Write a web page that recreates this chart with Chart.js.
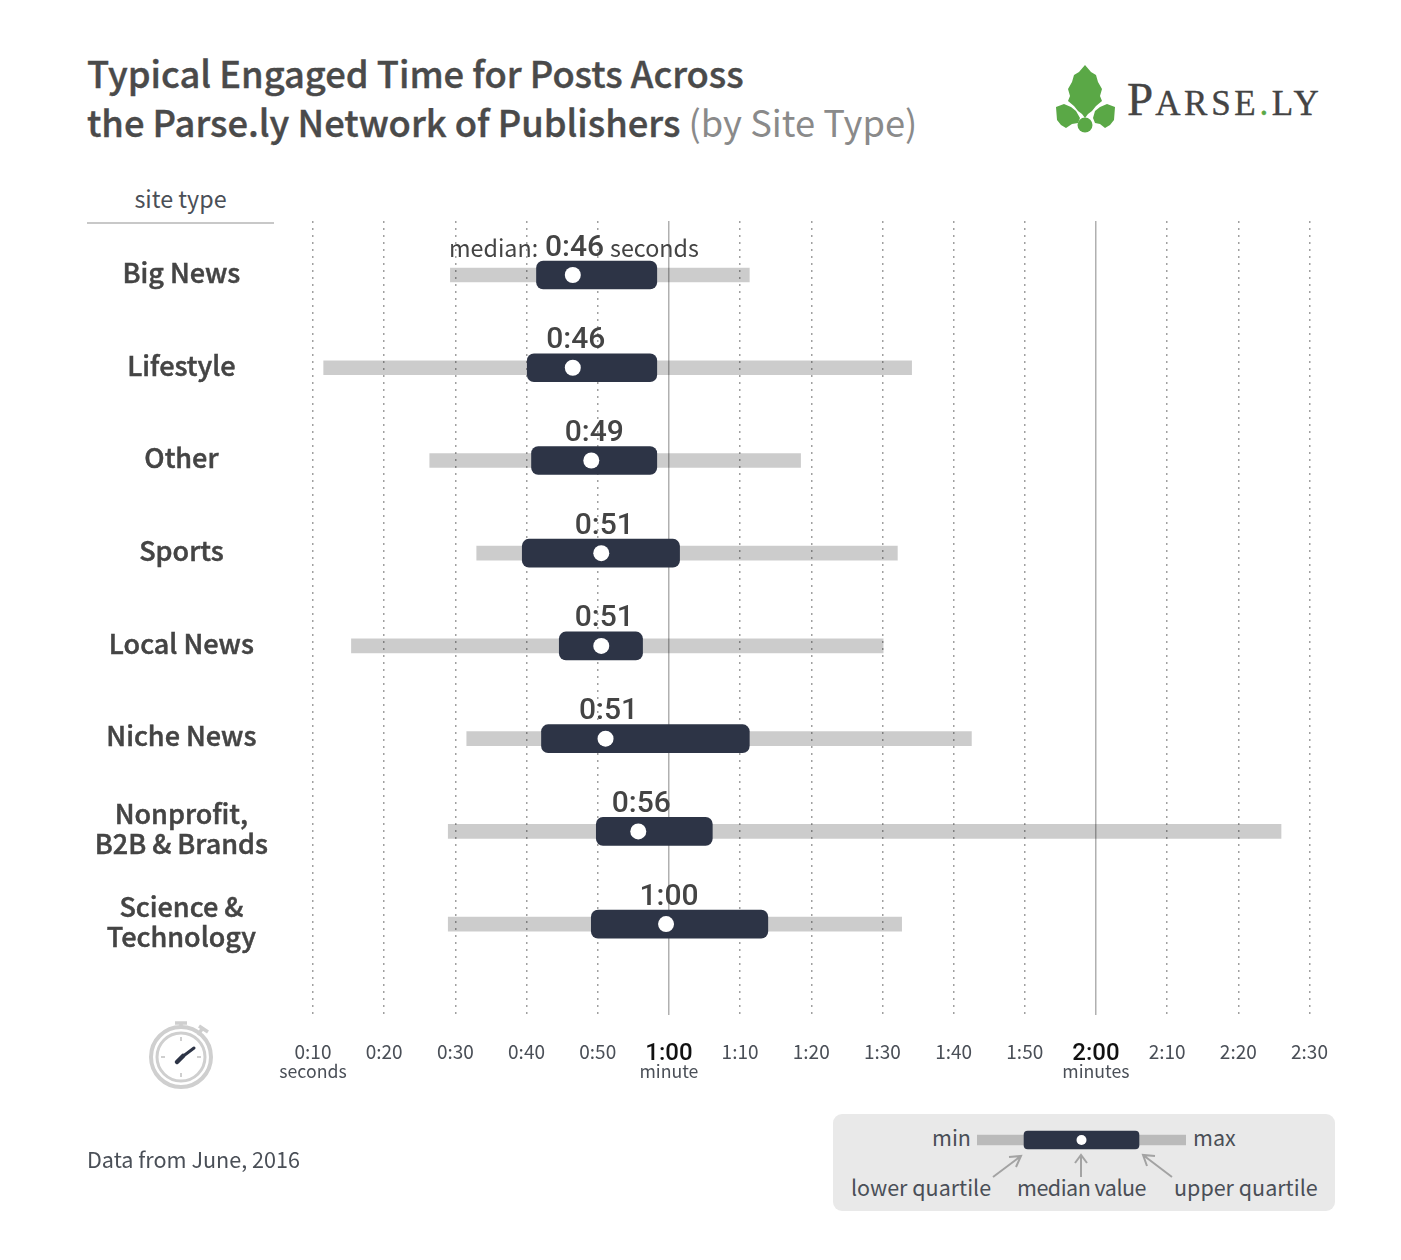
<!DOCTYPE html>
<html>
<head>
<meta charset="utf-8">
<title>Typical Engaged Time</title>
<script src="https://cdn.jsdelivr.net/npm/chart.js@4"></script>
<style>
    body { margin: 0; background: #fff; }
    #page { position: relative; width: 1401px; height: 1260px; overflow: hidden; font-family: "Noto Sans CJK JP", "Noto Sans", sans-serif; }
    #page canvas, #page svg, .txt { position: absolute; }
    .txt { white-space: nowrap; line-height: 1; color: #4a4f57; }
    .title { font-size: 36.3px; font-weight: 500; color: #4a4a4a; left: 87px; }
    .strong { -webkit-text-stroke: 0.4px #4a4a4a; }
    .sub { font-weight: 400; color: #8a8a8a; }
    #legendBox { position: absolute; left: 833px; top: 1114px; width: 502px; height: 97px; background: #e9e9e9; border-radius: 9px; }
    .legendTxt { font-size: 21.5px; }
    .logo { font-family: "Liberation Serif", serif; color: #444; -webkit-text-stroke: 0.4px #444; }
</style>
</head>
<body>
<div id="page">
    <div class="txt title strong" style="top:53.5px">Typical Engaged Time for Posts Across</div>
    <div class="txt title" style="top:102.5px"><span class="strong">the Parse.ly Network of Publishers</span> <span class="sub">(by Site Type)</span></div>

    <svg style="left:1050px;top:60px" width="70" height="76" viewBox="1050 60 70 76">
        <path fill="#5aa846" d="M1085 65 L1091 72 L1096 75 L1098 82 L1102 89 L1100 96 L1102 101 L1096 106 L1092 111 L1088 114 L1085 118 L1082 114 L1078 111 L1074 106 L1068 101 L1070 96 L1068 89 L1072 82 L1074 75 L1079 72 Z"/>
        <path fill="#5aa846" d="M1056 107 L1064 104 L1071 107 L1076 111 L1080 118 L1078 123 L1072 124 L1066 128 L1061 125 L1057 120 Z"/>
        <path fill="#5aa846" d="M1115 107 L1107 104 L1100 107 L1095 111 L1093 118 L1095 123 L1100 124 L1105 128 L1110 125 L1114 120 Z"/>
        <circle cx="1085" cy="125" r="7.5" fill="#5aa846"/>
    </svg>
    <div class="txt logo" style="left:1127px;top:76px;font-size:47px;letter-spacing:2px">P<span style="font-size:35px;letter-spacing:3.7px">ARSE<span style="color:#5aa846;-webkit-text-stroke-color:#5aa846">.</span>LY</span></div>

    <div class="txt" style="left:87px;width:187px;text-align:center;top:187px;font-size:23.3px">site type</div>
    <div style="position:absolute;left:87px;top:222px;width:187px;height:1.5px;background:#c8c8c8"></div>

    <canvas id="mainChart" width="1401" height="1260" style="left:0;top:0"></canvas>

    <svg style="left:140px;top:1015px" width="84" height="84" viewBox="140 1015 84 84">
        <g fill="none" stroke="#cfcfcf" stroke-width="4">
            <circle cx="181" cy="1057" r="30"/>
            <circle cx="181" cy="1057" r="24" stroke-width="3"/>
            <path d="M175 1023 H187 M181 1023 V1027 M199 1026 L208 1032 M202 1029 L198 1035" stroke-width="3.5"/>
            <path d="M181 1037 V1041 M181 1073 V1077 M161 1057 H165 M197 1057 H201" stroke-width="2"/>
        </g>
        <path d="M182 1057 L194 1048" stroke="#2d3446" stroke-width="3" stroke-linecap="round"/>
        <path d="M177 1062 L183 1056" stroke="#2d3446" stroke-width="4.5" stroke-linecap="round"/>
    </svg>

    <div class="txt" style="left:87px;top:1148px;font-size:21.6px">Data from June, 2016</div>

    <div id="legendBox"></div>
    <canvas id="legendChart" width="209" height="30" style="left:977px;top:1125px"></canvas>
    <div class="txt legendTxt" style="left:932px;top:1126px">min</div>
    <div class="txt legendTxt" style="left:1193px;top:1126px">max</div>
    <div class="txt legendTxt" style="left:851px;top:1176px">lower quartile</div>
    <div class="txt legendTxt" style="left:1017px;top:1176px;letter-spacing:-0.5px">median value</div>
    <div class="txt legendTxt" style="left:1174px;top:1176px">upper quartile</div>
    <svg style="left:985px;top:1148px" width="200" height="34" viewBox="985 1148 200 34">
        <g fill="none" stroke="#a3a3a3" stroke-width="2">
            <path d="M993 1177 L1021 1156 M1009 1157 L1021 1156 L1016 1167"/>
            <path d="M1081 1177 V1155 M1075 1163 L1081 1155 L1087 1163"/>
            <path d="M1172 1177 L1143 1155 M1155 1156 L1143 1155 L1147 1166"/>
        </g>
    </svg>
</div>

<script>
// Site types, top to bottom
const categories = ['Big News', 'Lifestyle', 'Other', 'Sports', 'Local News', 'Niche News', ['Nonprofit,', 'B2B & Brands'], ['Science &', 'Technology']];

// Engaged time in seconds
const minValues = [29.3, 11.5, 26.4, 33.0, 15.4, 31.6, 29.0, 29.0];
const lowerQuartiles = [41.4, 40.1, 40.7, 39.4, 44.6, 42.1, 49.8, 49.1];
const medians = [46.5, 46.5, 49.1, 50.5, 50.5, 51.1, 55.7, 59.6];
const upperQuartiles = [58.3, 58.3, 58.3, 61.5, 56.3, 71.3, 66.1, 73.9];
const maxValues = [71.3, 94.1, 78.5, 92.1, 90.1, 102.5, 146.0, 92.7];
const medianLabels = ['0:46', '0:46', '0:49', '0:51', '0:51', '0:51', '0:56', '1:00'];

// Axis notes under the tick labels
const tickNotes = { 10: 'seconds', 60: 'minute', 120: 'minutes' };

// Key in the grey box, on a plain 0-100 scale
const legendValues = [0, 22.5, 50, 77.5, 100];

const NAVY = '#2d3446';
const RANGE_GREY = 'rgba(0, 0, 0, 0.2)';
const TEXT = '#4a4f57';
const SANS = '"Noto Sans CJK JP", "Noto Sans", sans-serif';
const DIN = 'Roboto, sans-serif';

function formatTime(seconds) {
    const m = Math.floor(seconds / 60);
    const s = seconds % 60;
    return `${m}:${String(s).padStart(2, '0')}`;
}

// 1:00 and 2:00 get the heavier treatment
function isMinuteTick(ctx) {
    return !!ctx.tick && ctx.tick.value % 60 === 0;
}

// Median figures above the boxes and the small words under the axis
const annotations = {
    id: 'annotations',
    afterDatasetsDraw(chart) {
        const { ctx, scales: { x, y } } = chart;
        ctx.save();
        ctx.textBaseline = 'middle';
        ctx.textAlign = 'center';

        medianLabels.forEach((label, i) => {
            const py = y.getPixelForValue(i) - 27;
            if (i === 0) {
                ctx.textAlign = 'left';
                ctx.fillStyle = '#444';
                ctx.font = `400 23.3px ${SANS}`;
                ctx.fillText('median:', 449, py);
                ctx.fillText('seconds', 610, py);
                ctx.font = `500 30px ${DIN}`;
                ctx.fillText(label, 545, py);
                ctx.textAlign = 'center';
                return;
            }
            ctx.fillStyle = '#444';
            ctx.font = `500 30px ${DIN}`;
            ctx.fillText(label, x.getPixelForValue(medians[i]) + 3, py);
        });

        ctx.font = `400 17.7px ${SANS}`;
        ctx.fillStyle = TEXT;
        Object.keys(tickNotes).forEach(v => {
            ctx.fillText(tickNotes[v], x.getPixelForValue(+v), 1071);
        });
        ctx.restore();
    }
};

new Chart(document.getElementById('mainChart'), {
    type: 'bar',
    data: {
        datasets: [
            {
                type: 'scatter',
                indexAxis: 'x',
                data: medians.map((v, i) => ({ x: v, y: i })),
                pointRadius: 8,
                pointBackgroundColor: '#fff',
                pointBorderWidth: 0,
                showLine: false,
                order: 1
            },
            {
                data: lowerQuartiles.map((v, i) => ({ x: [v, upperQuartiles[i]], y: i })),
                backgroundColor: NAVY,
                borderRadius: 7,
                borderSkipped: false,
                barThickness: 28,
                grouped: false,
                order: 2
            },
            {
                data: minValues.map((v, i) => ({ x: [v, maxValues[i]], y: i })),
                backgroundColor: RANGE_GREY,
                borderSkipped: false,
                barThickness: 14,
                grouped: false,
                order: 3
            }
        ]
    },
    options: {
        indexAxis: 'y',
        responsive: false,
        animation: false,
        layout: { autoPadding: false, padding: { top: 221, right: 91.5, left: 0, bottom: 0 } },
        plugins: { legend: { display: false }, tooltip: { enabled: false } },
        scales: {
            x: {
                type: 'linear',
                position: 'bottom',
                min: 10,
                max: 150,
                afterFit: scale => { scale.height = 245; },
                border: {
                    display: false,
                    dash: ctx => (isMinuteTick(ctx) ? [] : [2, 5])
                },
                grid: {
                    drawTicks: false,
                    lineWidth: 1.5,
                    color: ctx => (isMinuteTick(ctx) ? '#b0b0b0' : '#a0a0a0')
                },
                ticks: {
                    stepSize: 10,
                    autoSkip: false,
                    maxRotation: 0,
                    padding: 25,
                    callback: value => formatTime(value),
                    color: ctx => (isMinuteTick(ctx) ? '#111' : TEXT),
                    font: ctx => (isMinuteTick(ctx)
                        ? { family: DIN, size: 24, weight: '500' }
                        : { family: SANS, size: 19, weight: '400' })
                }
            },
            y: {
                type: 'linear',
                reverse: true,
                offset: false,
                min: -0.5825,
                max: 7.98,
                afterFit: scale => { scale.width = 313; },
                // labels sit a little above the bar centres
                afterBuildTicks: scale => { scale.ticks = categories.map((c, i) => ({ value: i - 0.027 })); },
                border: { display: false },
                grid: { display: false, drawTicks: false },
                ticks: {
                    crossAlign: 'center',
                    padding: 45,
                    autoSkip: false,
                    color: '#444',
                    textStrokeColor: '#444',
                    textStrokeWidth: 0.5,
                    font: { family: SANS, size: 27, weight: '500', lineHeight: 1.11 },
                    callback: (value, index) => categories[index]
                }
            }
        }
    },
    plugins: [annotations]
});

new Chart(document.getElementById('legendChart'), {
    type: 'bar',
    data: {
        datasets: [
            {
                type: 'scatter',
                indexAxis: 'x',
                data: [{ x: legendValues[2], y: 0 }],
                pointRadius: 5,
                pointBackgroundColor: '#fff',
                pointBorderWidth: 0,
                order: 1
            },
            {
                data: [{ x: [legendValues[1], legendValues[3]], y: 0 }],
                backgroundColor: NAVY,
                borderRadius: 4,
                borderSkipped: false,
                barThickness: 18,
                grouped: false,
                order: 2
            },
            {
                data: [{ x: [legendValues[0], legendValues[4]], y: 0 }],
                backgroundColor: RANGE_GREY,
                borderSkipped: false,
                barThickness: 10,
                grouped: false,
                order: 3
            }
        ]
    },
    options: {
        indexAxis: 'y',
        responsive: false,
        animation: false,
        layout: { autoPadding: false },
        plugins: { legend: { display: false }, tooltip: { enabled: false } },
        scales: {
            x: { type: 'linear', min: 0, max: 100, display: false },
            y: { type: 'linear', offset: false, min: -1, max: 1, display: false }
        }
    }
});
</script>
</body>
</html>
